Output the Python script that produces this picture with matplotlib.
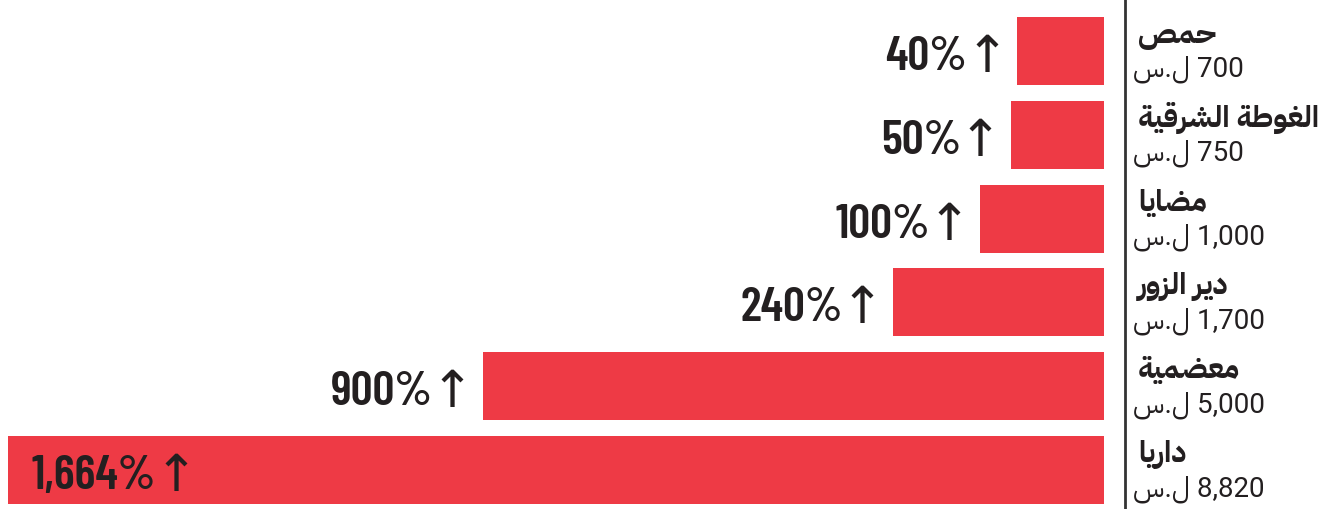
import matplotlib
matplotlib.use("Agg")
import matplotlib.pyplot as plt

# Data (top to bottom)
# Arabic names pre-shaped in visual order (presentation forms) since matplotlib lacks shaping
names = [
    "\uFEBA\uFEE4\uFEA3",                                   # حمص
    "\uFE94\uFEF4\uFED7\uFEAE\uFEB8\uFEDF\uFE8D \uFE94\uFEC3\uFEEE\uFED0\uFEDF\uFE8D",  # الغوطة الشرقية
    "\uFE8E\uFEF3\uFE8E\uFEC0\uFEE3",                       # مضايا
    "\uFEAD\uFEED\uFEB0\uFEDF\uFE8D \uFEAE\uFEF3\uFEA9",     # دير الزور
    "\uFE94\uFEF4\uFEE4\uFEC0\uFECC\uFEE3",                 # معضمية
    "\uFE8E\uFEF3\uFEAD\uFE8D\uFEA9",                       # داريا
]
prices = [700, 750, 1000, 1700, 5000, 8820]
pct_labels = ["40%", "50%", "100%", "240%", "900%", "1,664%"]
currency = "\uFEB1.\uFEDD"  # ل.س

BAR_COLOR = "#EE3A45"
TEXT_COLOR = "#231F20"
AR_FONT = ["IBM Plex Sans Arabic", "DejaVu Sans"]
NUM_FONT = ["Roboto", "IBM Plex Sans Arabic", "DejaVu Sans"]
PCT_FONT = ["Barlow Condensed", "DejaVu Sans"]
ARROW_FONT = ["DejaVu Sans"]

W, H = 1342, 510
fig = plt.figure(figsize=(W / 100, H / 100), dpi=100)

left_px, right_px, top_px, bot_px = 8, 1104, 18, 505
ax = fig.add_axes([left_px / W, 1 - bot_px / H, (right_px - left_px) / W, (bot_px - top_px) / H])
n = len(prices)
bh = 0.81
ax.set_xlim(max(prices), 0)
ax.set_ylim(n - 1 + bh / 2, -bh / 2)
ax.barh(range(n), prices, height=bh, color=BAR_COLOR, align="center")
ax.axis("off")

pct_kw = dict(family=PCT_FONT, fontweight="semibold", fontsize=35, color=TEXT_COLOR)
arr_kw = dict(family=ARROW_FONT, fontweight="normal", fontsize=37, color=TEXT_COLOR)
base_dy = -18
arrow_dy = -20
gap = -2
renderer = fig.canvas.get_renderer()

for i, (v, lab) in enumerate(zip(prices, pct_labels)):
    if i == n - 1:
        t = ax.annotate(lab, xy=(v, i), xytext=(24, base_dy), textcoords="offset pixels",
                        ha="left", va="baseline", **pct_kw)
        tw = t.get_window_extent(renderer).width
        ax.annotate("\u2191", xy=(v, i), xytext=(24 + tw + gap, arrow_dy), textcoords="offset pixels",
                    ha="left", va="baseline", **arr_kw)
    else:
        a = ax.annotate("\u2191", xy=(v, i), xytext=(-9, arrow_dy), textcoords="offset pixels",
                        ha="right", va="baseline", **arr_kw)
        aw = a.get_window_extent(renderer).width
        ax.annotate(lab, xy=(v, i), xytext=(-9 - aw - gap, base_dy), textcoords="offset pixels",
                    ha="right", va="baseline", **pct_kw)

for i, (nm, v) in enumerate(zip(names, prices)):
    ax.annotate(nm, xy=(0, i), xytext=(34, 9), textcoords="offset pixels",
                ha="left", va="baseline", fontsize=21.5, fontweight="bold",
                family=AR_FONT, color=TEXT_COLOR, annotation_clip=False)
    ax.annotate(currency + " " + f"{v:,}", xy=(0, i), xytext=(29, -25), textcoords="offset pixels",
                ha="left", va="baseline", fontsize=20, fontweight="normal",
                family=NUM_FONT, color=TEXT_COLOR, annotation_clip=False)

fig.add_artist(plt.Line2D([1125 / W, 1125 / W], [0, 1], color="#333333", lw=2.0,
                          transform=fig.transFigure))

fig.savefig("out.png", dpi=100, facecolor="white")
